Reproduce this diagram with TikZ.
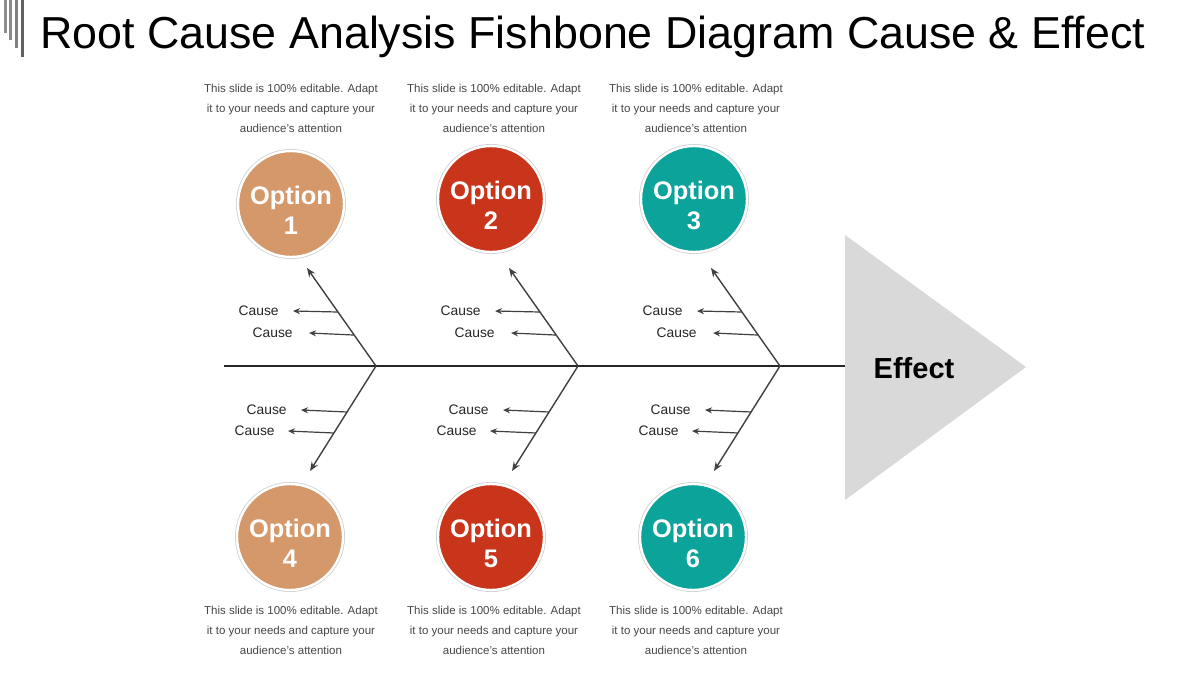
\documentclass[tikz,border=0pt]{standalone}
\usepackage{fontspec}
\setmainfont{Liberation Sans}
\usepackage{tikz}
\usetikzlibrary{arrows.meta,calc,positioning}
\definecolor{optTan}{HTML}{D4986A}
\definecolor{optRed}{HTML}{C9351B}
\definecolor{optTeal}{HTML}{0BA39A}
\definecolor{effectgray}{HTML}{D9D9D9}
\colorlet{bonegray}{black!75}
\colorlet{descgray}{black!72}

\begin{document}
\begin{tikzpicture}[x=0.5pt,y=-0.5pt,>=Stealth,
  bone/.style={bonegray,line width=0.7pt,-{Stealth[length=4.5pt,width=3.6pt]}},
  cause/.style={bonegray,line width=0.6pt,-{Stealth[length=3.5pt,width=3pt]}},
  causelbl/.style={inner sep=0pt,font=\fontsize{6.9}{8}\selectfont,text=black!85},
  optcircle/.style={circle,minimum size=53pt,inner sep=0pt,draw=white,line width=1.2pt,
    preaction={draw=black!18,line width=2pt}},
  optlabel/.style={text=white,align=center,inner sep=0pt,
    font=\fontsize{12.7}{15}\selectfont\bfseries},
  desc/.style={align=center,text=descgray,inner sep=0pt,
    font=\fontsize{5.75}{10}\selectfont}]
\useasboundingbox[fill=white] (0,0) rectangle (1200,675);
% title and the bars beside it
\fill[black!45] (4,0) rectangle (6.5,33);
\fill[black!45] (9,0) rectangle (11.5,40);
\fill[black!50] (15,0) rectangle (17.5,48);
\fill[black!62] (21,0) rectangle (24,57);
\node[anchor=base west,inner sep=0pt,font=\fontsize{22.4}{27}\selectfont] (title) at (40,48)
  {Root Cause Analysis Fishbone Diagram Cause \& Effect};
% effect head
\fill[effectgray] (845,235) -- (1026,367) -- (845,500) -- cycle;
\coordinate (head) at (845,366);
\coordinate (tail) at (224,366);
\node[font=\fontsize{14.5}{16}\selectfont\bfseries] (effect) at (914,368) {Effect};
\draw[black!85,line width=0.75pt] (tail) -- (head);
% bones with their causes
\foreach \jx [count=\i] in {376,578,780}{
  \coordinate (j\i) at (\jx,366);
  \coordinate (u\i) at (\jx-69,268);
  \coordinate (d\i) at (\jx-66,471);
  \draw[bone] (j\i) -- (u\i);
  \draw[bone] (j\i) -- (d\i);
  \coordinate (ua\i) at ($(j\i)!0.551!(u\i)$);
  \coordinate (ub\i) at ($(j\i)!0.316!(u\i)$);
  \coordinate (da\i) at ($(j\i)!0.438!(d\i)$);
  \coordinate (db\i) at ($(j\i)!0.638!(d\i)$);
  \node[causelbl,anchor=east] (cua\i) at (\jx-97,311) {Cause};
  \node[causelbl,anchor=east] (cub\i) at (\jx-83,333) {Cause};
  \node[causelbl,anchor=east] (cda\i) at (\jx-89,410) {Cause};
  \node[causelbl,anchor=east] (cdb\i) at (\jx-101,431) {Cause};
  \draw[cause] (ua\i) -- ([xshift=7pt]cua\i.east);
  \draw[cause] (ub\i) -- ([xshift=8pt]cub\i.east);
  \draw[cause] (da\i) -- ([xshift=7pt]cda\i.east);
  \draw[cause] (db\i) -- ([xshift=6.5pt]cdb\i.east);
}
% option circles
\foreach \cx/\cy/\col/\idx in {291/204/optTan/1,491/199/optRed/2,694/199/optTeal/3,
  290/537/optTan/4,491/537/optRed/5,693/537/optTeal/6}{
  \node[optcircle,fill=\col] (opt\idx) at (\cx,\cy) {};
  \node[optlabel] (optlbl\idx) at (\cx,\cy+6) {Option\\\idx};
}
% descriptions
\foreach \dx/\dy [count=\k] in {291/108,494/108,696/108,291/630,494/630,696/630}
  \node[desc] (desc\k) at (\dx,\dy)
    {This slide is 100\% editable. Adapt\\it to your needs and capture your\\audience's attention};
\end{tikzpicture}
\end{document}
